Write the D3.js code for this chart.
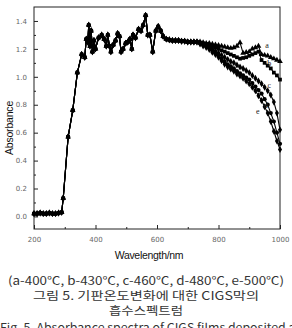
<!DOCTYPE html>
<html>
<head>
<meta charset="utf-8">
<script src="https://cdn.jsdelivr.net/npm/d3@7"></script>
<style>
  body { margin: 0; background: #fff; }
  svg { display: block; }
</style>
</head>
<body>
<script>
// shared part of all five spectra (nm / absorbance)
const baseWl = [200, 210, 220, 230, 240, 250, 260, 270, 280, 290, 295, 311, 326, 341, 355, 365, 370, 375, 378, 382, 386, 390, 395, 400, 410, 420, 428, 435, 440, 445, 450, 458, 465, 472, 478, 483, 490, 498, 505, 512, 518, 522, 530, 540, 548, 555, 563, 570, 577, 586, 596, 604, 612, 620, 630, 640, 650, 660, 670, 680, 690, 700, 710, 720];
const baseAbs = [0.02, 0.02, 0.025, 0.02, 0.02, 0.025, 0.02, 0.02, 0.025, 0.03, 0.13, 0.57, 0.76, 1.03, 1.16, 1.14, 1.27, 1.25, 1.37, 1.22, 1.33, 1.18, 1.26, 1.2, 1.28, 1.3, 1.27, 1.22, 1.3, 1.22, 1.18, 1.23, 1.26, 1.31, 1.29, 1.18, 1.2, 1.24, 1.25, 1.27, 1.2, 1.3, 1.28, 1.34, 1.33, 1.37, 1.44, 1.3, 1.3, 1.18, 1.33, 1.36, 1.33, 1.29, 1.27, 1.265, 1.26, 1.26, 1.26, 1.255, 1.255, 1.25, 1.25, 1.25];

// tails after the curves split
const tailWl = [730, 740, 750, 760, 770, 780, 790, 800, 810, 820, 830, 840, 850, 860, 870, 880, 890, 900, 910, 920, 930, 940, 950, 960, 970, 980, 990, 1000];
const tailA = [1.25, 1.25, 1.245, 1.24, 1.24, 1.235, 1.23, 1.225, 1.22, 1.215, 1.21, 1.205, 1.21, 1.22, 1.245, 1.17, 1.175, 1.18, 1.2, 1.21, 1.22, 1.16, 1.155, 1.15, 1.14, 1.13, 1.12, 1.11];
const tailB = [1.25, 1.245, 1.24, 1.235, 1.23, 1.22, 1.21, 1.2, 1.19, 1.18, 1.17, 1.16, 1.15, 1.14, 1.13, 1.135, 1.14, 1.15, 1.16, 1.17, 1.18, 1.12, 1.1, 1.08, 1.06, 1.03, 1.01, 0.98];
const tailC = [1.25, 1.24, 1.235, 1.23, 1.22, 1.2, 1.185, 1.17, 1.155, 1.14, 1.125, 1.11, 1.1, 1.085, 1.07, 1.06, 1.045, 1.03, 1.01, 0.99, 0.97, 0.95, 0.925, 0.9, 0.87, 0.82, 0.74, 0.62];
const tailD = [1.25, 1.24, 1.23, 1.22, 1.21, 1.19, 1.17, 1.15, 1.13, 1.11, 1.09, 1.075, 1.06, 1.04, 1.025, 1.01, 0.995, 0.98, 0.955, 0.93, 0.905, 0.88, 0.84, 0.8, 0.74, 0.68, 0.6, 0.52];
const tailE = [1.25, 1.235, 1.22, 1.21, 1.195, 1.175, 1.16, 1.14, 1.115, 1.09, 1.07, 1.055, 1.04, 1.02, 1.005, 0.99, 0.97, 0.95, 0.925, 0.9, 0.865, 0.83, 0.785, 0.74, 0.68, 0.61, 0.54, 0.48];

const seriesNames = ["a", "b", "c", "d", "e"];
const seriesTails = [tailA, tailB, tailC, tailD, tailE];
const seriesSymbols = [d3.symbolTriangle, d3.symbolSquare, d3.symbolDiamond, d3.symbolCircle, d3.symbolDiamond];
// where the little letters sit (nm, absorbance)
const labelWl = [958, 965, 965, 954, 928];
const labelAbs = [1.225, 1.1, 0.94, 0.8, 0.755];

const xTicks = [200, 400, 600, 800, 1000];
const xMinor = [300, 500, 700, 900];
const yTicks = [0.0, 0.2, 0.4, 0.6, 0.8, 1.0, 1.2, 1.4];
const yMinor = [0.1, 0.3, 0.5, 0.7, 0.9, 1.1, 1.3];

const captionLines = [
  "(a-400℃, b-430℃, c-460℃, d-480℃, e-500℃)",
  "그림 5. 기판온도변화에 대한 CIGS막의",
  "흡수스펙트럼",
  "Fig. 5. Absorbance spectra of CIGS films deposited at"
];

const width = 292, height = 328;
const mLeft = 34, mRight = 280, mTop = 7, mBottom = 229;

const x = d3.scaleLinear().domain([200, 1000]).range([mLeft, mRight]);
const y = d3.scaleLinear().domain([-0.09, 1.5]).range([mBottom, mTop]);

const svg = d3.select("body").append("svg")
  .attr("width", width)
  .attr("height", height)
  .style("font-family", "'Liberation Sans', Arial, sans-serif");

// frame
svg.append("rect")
  .attr("x", mLeft).attr("y", mTop)
  .attr("width", mRight - mLeft).attr("height", mBottom - mTop)
  .attr("fill", "none").attr("stroke", "#222").attr("stroke-width", 1);

// inward ticks
svg.append("g").attr("transform", `translate(0,${mBottom})`)
  .call(d3.axisBottom(x).tickValues(xTicks).tickSize(-4).tickPadding(8).tickFormat(d3.format("d")));
svg.append("g").attr("transform", `translate(0,${mBottom})`)
  .call(d3.axisBottom(x).tickValues(xMinor).tickSize(-2).tickFormat(""));
svg.append("g").attr("transform", `translate(${mLeft},0)`)
  .call(d3.axisLeft(y).tickValues(yTicks).tickSize(-4).tickPadding(7).tickFormat(d3.format(".1f")));
svg.append("g").attr("transform", `translate(${mLeft},0)`)
  .call(d3.axisLeft(y).tickValues(yMinor).tickSize(-2).tickFormat(""));

svg.selectAll(".domain").remove();
svg.selectAll(".tick line").attr("stroke", "#222");
svg.selectAll(".tick text")
  .attr("fill", "#666")
  .style("font-size", "7px")
  .style("font-family", "'DejaVu Sans', sans-serif");

// axis titles
svg.append("text")
  .attr("x", 149).attr("y", 259)
  .attr("text-anchor", "middle")
  .attr("fill", "#111")
  .style("font-size", "10.5px")
  .style("letter-spacing", "-0.3px")
  .text("Wavelength/nm");
svg.append("text")
  .attr("transform", `translate(13,${(mTop + mBottom) / 2 + 10}) rotate(-90)`)
  .attr("text-anchor", "middle")
  .attr("fill", "#111")
  .style("font-size", "10.5px")
  .style("letter-spacing", "-0.2px")
  .text("Absorbance");

const line = d3.line().x(d => x(d[0])).y(d => y(d[1]));
const plot = svg.append("g");

seriesTails.forEach((tail, i) => {
  const pts = baseWl.map((w, j) => [w, baseAbs[j]])
    .concat(tailWl.map((w, j) => [w, tail[j]]));
  plot.append("path")
    .attr("d", line(pts))
    .attr("fill", "none")
    .attr("stroke", "#000")
    .attr("stroke-width", 1.1);
  const sym = d3.symbol().type(seriesSymbols[i]).size(14);
  plot.selectAll(null)
    .data(pts)
    .join("path")
    .attr("transform", d => `translate(${x(d[0])},${y(d[1])})`)
    .attr("d", sym)
    .attr("fill", "#000");
});

// curve letters
seriesNames.forEach((name, i) => {
  svg.append("text")
    .attr("x", x(labelWl[i])).attr("y", y(labelAbs[i]))
    .attr("dy", ".35em")
    .attr("text-anchor", "middle")
    .attr("fill", "#222")
    .style("font-family", "'Liberation Serif', serif")
    .style("font-size", "8px")
    .text(name);
});

// caption
const capY = [285, 300, 315, 332];
const capW = [276, 226, 74, 300];
captionLines.forEach((t, i) => {
  svg.append("text")
    .attr("x", i === 3 ? 0 : width / 2)
    .attr("y", capY[i])
    .attr("text-anchor", i === 3 ? "start" : "middle")
    .attr("fill", "#333")
    .style("font-family", "'Noto Sans CJK KR', 'Noto Sans', sans-serif")
    .style("font-size", "11.5px")
    .attr("textLength", capW[i])
    .attr("lengthAdjust", "spacingAndGlyphs")
    .text(t);
});
</script>
</body>
</html>
